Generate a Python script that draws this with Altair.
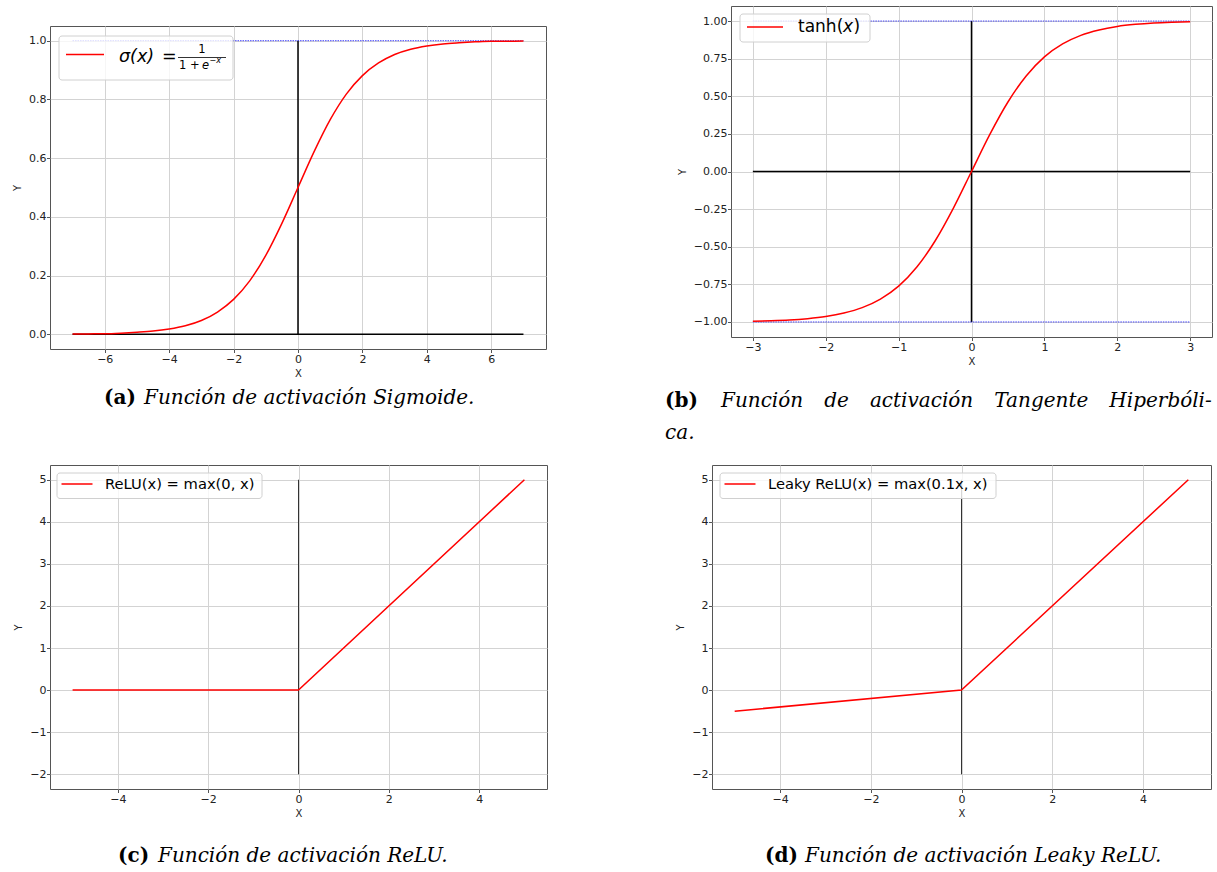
import altair as alt
import pandas as pd

# ---------------- data ----------------
sig_x = [-7, -6.5, -6, -5.5, -5, -4.5, -4, -3.5, -3, -2.5, -2, -1.5, -1, -0.5, 0,
         0.5, 1, 1.5, 2, 2.5, 3, 3.5, 4, 4.5, 5, 5.5, 6, 6.5, 7]
sig_y = [0.001, 0.0015, 0.002, 0.004, 0.007, 0.011, 0.018, 0.029, 0.047, 0.076, 0.119,
         0.182, 0.269, 0.378, 0.5, 0.622, 0.731, 0.818, 0.881, 0.924, 0.953, 0.971,
         0.982, 0.989, 0.993, 0.996, 0.998, 0.998, 0.999]

tanh_x = [-3, -2.75, -2.5, -2.25, -2, -1.75, -1.5, -1.25, -1, -0.75, -0.5, -0.25, 0,
          0.25, 0.5, 0.75, 1, 1.25, 1.5, 1.75, 2, 2.25, 2.5, 2.75, 3]
tanh_y = [-0.995, -0.992, -0.987, -0.978, -0.964, -0.941, -0.905, -0.848, -0.762, -0.635,
          -0.462, -0.245, 0.0, 0.245, 0.462, 0.635, 0.762, 0.848, 0.905, 0.941, 0.964,
          0.978, 0.987, 0.992, 0.995]

relu_x = [-5, 0, 5]
relu_y = [0, 0, 5]
leaky_x = [-5, 0, 5]
leaky_y = [-0.5, 0, 5]

# reference lines (x, y, x2, y2)
sig_black = {"x": [-7, 0], "y": [0, 0], "x2": [7, 0], "y2": [0, 1]}
sig_blue = {"x": [-7], "y": [1], "x2": [7], "y2": [1]}
tanh_black = {"x": [-3, 0], "y": [0, -1], "x2": [3, 0], "y2": [0, 1]}
tanh_blue = {"x": [-3, -3], "y": [1, -1], "x2": [3, 3], "y2": [1, -1]}
relu_black = {"x": [0], "y": [-2], "x2": [0], "y2": [5]}

# axes
a_xticks = [-6, -4, -2, 0, 2, 4, 6]
a_yticks = [0, 0.2, 0.4, 0.6, 0.8, 1.0]
b_xticks = [-3, -2, -1, 0, 1, 2, 3]
b_yticks = [-1, -0.75, -0.5, -0.25, 0, 0.25, 0.5, 0.75, 1]
c_xticks = [-4, -2, 0, 2, 4]
c_yticks = [-2, -1, 0, 1, 2, 3, 4, 5]

NB = "\u00a0"
one = pd.DataFrame({"k": [0]})
SERIF = "DejaVu Serif"
SANS = "DejaVu Sans"


def txt(text, x, y, size, font=SANS, style="normal", weight="normal", align="left", color="black"):
    return alt.Chart(one).mark_text(
        text=text, align=align, baseline="middle", fontSize=size, font=font,
        fontStyle=style, fontWeight=weight, color=color
    ).encode(x=alt.value(x), y=alt.value(y))


def box(x1, x2, y1, y2):
    return alt.Chart(one).mark_rect(
        fill="white", fillOpacity=0.8, stroke="#d0d0d0", strokeWidth=1, cornerRadius=3
    ).encode(x=alt.value(x1), x2=alt.value(x2), y=alt.value(y1), y2=alt.value(y2))


def hline(x1, x2, y, color="red", width=1.5):
    return alt.Chart(one).mark_rule(color=color, strokeWidth=width).encode(
        x=alt.value(x1), x2=alt.value(x2), y=alt.value(y))


def panel(cx, cy, xdom, ydom, xt, yt, yfmt, w, h, black, blue, black_color, black_w,
          interp, extras):
    X = alt.X("x:Q", scale=alt.Scale(domain=xdom, nice=False, zero=False),
              axis=alt.Axis(values=xt, format="d", title="X"))
    Y = alt.Y("y:Q", scale=alt.Scale(domain=ydom, nice=False, zero=False),
              axis=alt.Axis(values=yt, format=yfmt, title="Y"))
    layers = []
    layers.append(alt.Chart(pd.DataFrame(black)).mark_rule(
        color=black_color, strokeWidth=black_w).encode(x=X, y=Y, x2="x2:Q", y2="y2:Q"))
    if blue is not None:
        layers.append(alt.Chart(pd.DataFrame(blue)).mark_rule(
            color="#0000ff", strokeWidth=0.8, strokeDash=[1.5, 1], opacity=0.9
        ).encode(x=X, y=Y, x2="x2:Q", y2="y2:Q"))
    layers.append(alt.Chart(pd.DataFrame({"x": cx, "y": cy})).mark_line(
        color="#ff0000", strokeWidth=1.5, interpolate=interp).encode(x=X, y=Y))
    layers.extend(extras)
    return alt.layer(*layers).properties(width=w, height=h)


# ---- (a) sigmoid ----
a_extras = [
    box(9, 183, 10, 54),
    hline(16, 54, 28.5),
    txt("σ(x)", 69, 31, 17.5, style="italic"),
    txt("=", 112, 31, 17.5),
    txt("1", 152, 23.5, 11.5, align="center"),
    hline(128, 176, 31.5, color="black", width=0.8),
    txt("1 + ", 129, 39.5, 11.5),
    txt("e", 152, 39.5, 11.5, style="italic"),
    txt("−x", 159.5, 35, 8, style="italic"),
    txt("(a)", 54, 372, 20, font=SERIF, weight="bold"),
    txt("Función de activación Sigmoide.", 94, 372, 20, font=SERIF, style="italic"),
]
pa = panel(sig_x, sig_y, [-7.7, 7.7], [-0.05, 1.05], a_xticks, a_yticks, ".1f",
           496, 323, sig_black, sig_blue, "black", 1.5, "monotone", a_extras)

# invisible spacer that pushes panel (a) down relative to panel (b)
spacer = alt.Chart(one).mark_point(opacity=0, size=1).encode(
    x=alt.value(5), y=alt.value(10)
).properties(width=10, height=19,
             view=alt.ViewBackground(stroke="transparent", strokeOpacity=0))

# ---- (b) tanh ----
gap = NB * 3 + "\u200a"
b_extras = [
    box(9, 139, 8, 36),
    hline(16, 52, 21),
    txt("tanh(", 67, 21, 17),
    txt("x", 112, 21, 17, style="italic"),
    txt(")", 122.5, 21, 17),
    txt("(b)", -66, 395, 20, font=SERIF, weight="bold"),
    txt(gap.join(["Función", "de", "activación", "Tangente", "Hiperbóli-"]), -10, 395, 20,
        font=SERIF, style="italic"),
    txt("ca.", -66, 427, 20, font=SERIF, style="italic"),
]
pb = panel(tanh_x, tanh_y, [-3.3, 3.3], [-1.1, 1.1], b_xticks, b_yticks, ".2f",
           481, 331, tanh_black, tanh_blue, "black", 1.5, "monotone", b_extras)

# ---- (c) ReLU ----
c_extras = [
    box(7, 212, 8, 33.5),
    hline(11.5, 42.5, 19),
    txt("ReLU(x) = max(0, x)", 55, 19.5, 14.7),
    txt("(c)", 68, 391, 20, font=SERIF, weight="bold"),
    txt("Función de activación ReLU.", 108, 391, 20, font=SERIF, style="italic"),
]
pc = panel(relu_x, relu_y, [-5.5, 5.5], [-2.35, 5.35], c_xticks, c_yticks, "d",
           497, 324, relu_black, None, "#333333", 1.0, "linear", c_extras)

# ---- (d) Leaky ReLU ----
d_extras = [
    box(8, 284, 8, 33.5),
    hline(12.5, 43.5, 19),
    txt("Leaky ReLU(x) = max(0.1x, x)", 56, 19.5, 14.7),
    txt("(d)", 53, 391, 20, font=SERIF, weight="bold"),
    txt("Función de activación Leaky ReLU.", 93, 391, 20, font=SERIF, style="italic"),
]
pd_ = panel(leaky_x, leaky_y, [-5.5, 5.5], [-2.35, 5.35], c_xticks, c_yticks, "d",
            499, 324, relu_black, None, "#333333", 1.0, "linear", d_extras)

left_top = alt.vconcat(spacer, pa, spacing=0)
row1 = alt.hconcat(left_top, pb, spacing=117)
row2 = alt.hconcat(pc, pd_, spacing=127)

chart = alt.vconcat(row1, row2, spacing=20).properties(
    padding={"left": 12, "top": 5, "right": 2, "bottom": 2},
    background="white",
).configure_view(
    stroke="#555555", strokeWidth=1
).configure_axis(
    domain=False, grid=True, gridColor="#d3d3d3", gridWidth=1,
    tickColor="#555555", tickSize=3.5, tickWidth=1,
    labelFont=SANS, labelFontSize=11, labelColor="#222222", labelPadding=0.5,
    labelOverlap=False, labelFlush=False,
    titleFont=SANS, titleFontSize=10, titleFontWeight="normal", titleColor="#222222",
).configure_axisX(
    titlePadding=4
).configure_axisY(
    titlePadding=6
)

chart.save("out.html", embed_options={"renderer": "svg", "actions": False})
